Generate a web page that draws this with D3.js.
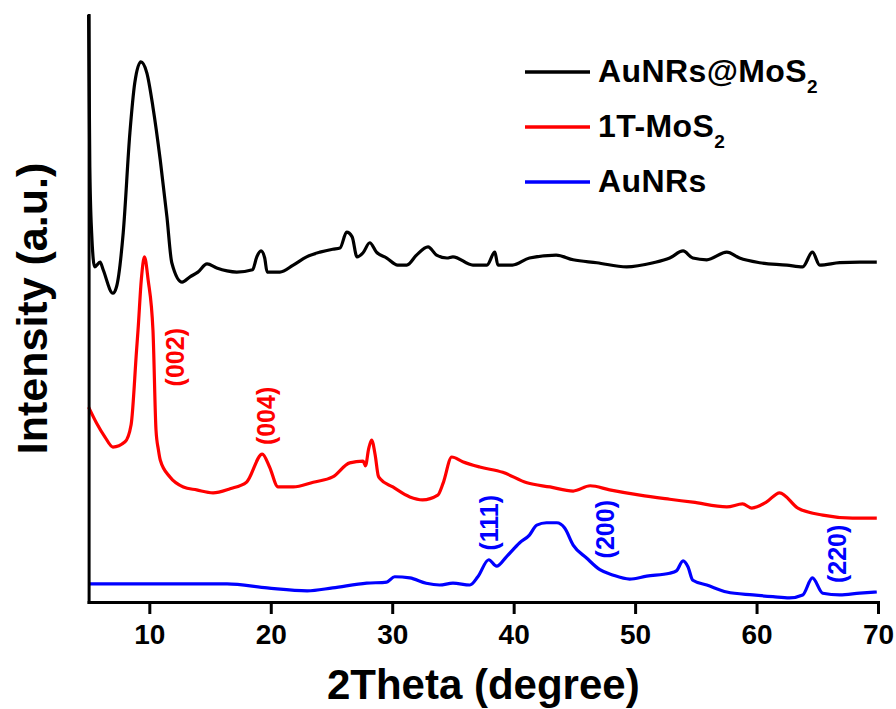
<!DOCTYPE html>
<html>
<head>
<meta charset="utf-8">
<script src="https://cdn.jsdelivr.net/npm/d3@7"></script>
<style>
  body { margin: 0; background: #fff; }
  svg text { font-family: "Liberation Sans", Arial, sans-serif; font-weight: bold; }
</style>
</head>
<body>
<div id="chart"></div>
<script>
const width = 896;
const height = 709;
const margin = { top: 15, right: 18, bottom: 107, left: 88.6 }

// 2theta (degree) / intensity (a.u.)
const auMosX = [5.0, 5.1, 5.25, 5.5, 5.95, 6.2, 7.0, 7.3, 7.85, 8.4, 8.8, 9.3, 9.8, 10.3, 10.9, 11.45, 11.85, 12.7, 13.35, 14.0,
  14.75, 15.55, 16.4, 17.2, 18.5, 18.85, 19.2, 19.5, 19.7, 20.75, 21.85, 22.95, 24.05, 25.1, 25.7, 26.25, 26.7, 27.1, 27.6, 28.15,
  28.7, 29.55, 30.45, 31.2, 32.0, 32.95, 33.65, 34.5, 35.0, 36.65, 37.8, 38.45, 38.7, 39.9, 41.3, 43.5, 44.9, 46.85, 49.3, 51.5,
  52.85, 53.95, 54.75, 55.9, 57.55, 58.6, 60.25, 62.5, 63.8, 64.6, 65.2, 66.85, 68.5, 69.9]
const auMosY = [100.0, 74.1, 62.9, 57.1, 57.9, 56.6, 52.6, 53.7, 62.9, 79.9, 88.4, 92.0, 90.1, 84.3, 75.3, 65.6, 57.8, 54.5, 55.4, 56.2,
  57.6, 56.9, 56.4, 56.2, 56.6, 58.8, 59.8, 58.6, 56.2, 56.2, 57.4, 58.8, 59.6, 60.1, 60.3, 63.0, 62.2, 58.8, 59.5, 61.2,
  59.6, 58.6, 57.4, 57.4, 59.1, 60.5, 59.1, 58.6, 58.8, 57.4, 57.4, 59.6, 57.4, 57.4, 58.6, 59.1, 58.3, 57.8, 57.1, 57.8,
  58.6, 59.8, 58.6, 58.3, 59.6, 58.6, 57.8, 57.4, 57.1, 59.6, 57.4, 57.8, 57.9, 57.9]

const mos2X = [5.0, 5.65, 6.35, 7.0, 8.0, 8.5, 8.95, 9.07, 9.34, 9.6, 9.9, 10.3, 10.55, 10.75, 10.9, 11.7, 12.8, 13.9, 15.25, 16.65,
  18.0, 19.3, 19.9, 20.6, 21.85, 23.5, 25.1, 26.5, 27.6, 27.8, 28.05, 28.3, 28.6, 28.85, 29.0, 30.05, 31.45, 32.5, 33.75, 34.2,
  34.9, 35.8, 37.2, 39.1, 41.1, 43.0, 44.9, 46.3, 47.9, 50.4, 52.85, 54.75, 57.55, 58.85, 59.6, 60.8, 61.9, 63.4, 65.45, 67.9, 69.9]
const mos2Y = [33.2, 30.5, 28.1, 26.4, 27.3, 30.2, 42.9, 46.3, 54.9, 58.8, 54.9, 46.3, 29.3, 25.9, 24.2, 21.3, 19.6, 19.1, 18.6, 19.3,
  20.4, 25.2, 23.0, 19.6, 19.6, 20.4, 21.3, 23.7, 24.0, 23.2, 26.0, 27.6, 25.0, 21.5, 21.0, 19.6, 17.9, 17.4, 18.2, 20.3,
  24.7, 23.9, 23.0, 22.1, 20.3, 19.6, 18.9, 19.8, 19.1, 18.2, 17.5, 17.0, 16.2, 16.7, 16.0, 17.0, 18.6, 16.0, 14.8, 14.3, 14.3]

const auX = [5.0, 16.4, 19.7, 23.0, 25.1, 27.9, 29.55, 30.2, 31.45, 32.8, 33.9, 35.0, 36.4, 37.05, 37.95, 38.6, 39.4, 40.5, 41.3, 41.9,
  42.7, 43.55, 44.2, 44.9, 46.0, 47.1, 48.15, 49.55, 50.95, 52.85, 53.4, 53.95, 54.35, 54.75, 55.9, 57.55, 59.7, 61.35, 62.7, 63.8,
  64.6, 65.45, 66.85, 68.5, 69.9]
const auY = [3.1, 3.1, 2.4, 1.9, 2.4, 3.2, 3.4, 4.3, 4.1, 3.2, 2.9, 3.2, 2.9, 4.3, 7.2, 6.1, 7.7, 10.1, 11.4, 13.1,
  13.5, 13.5, 12.6, 9.7, 7.5, 5.5, 4.6, 3.9, 4.4, 4.9, 5.3, 7.0, 6.0, 3.7, 2.9, 1.7, 1.2, 0.9, 0.7, 1.2,
  4.1, 1.5, 1.2, 1.5, 1.7]

const seriesNames = ['AuNRs@MoS2', '1T-MoS2', 'AuNRs']
const seriesColors = ['#000000', '#ff0000', '#0000ff']

const xTicks = [10, 20, 30, 40, 50, 60, 70]

// peak labels: text, 2theta, intensity, colour index
const peakText = ['(002)', '(004)', '(111)', '(200)', '(220)']
const peakX = [12.1, 19.6, 37.95, 47.5, 66.6]
const peakY = [41.7, 31.7, 13.5, 12.4, 8.2]
const peakSeries = [1, 1, 2, 2, 2]

const x = d3.scaleLinear().domain([5, 70]).range([margin.left, width - margin.right]);
const y = d3.scaleLinear().domain([0, 100]).range([height - margin.bottom, margin.top]);

const line = d3.line()
    .curve(d3.curveMonotoneX)
    .x(d => x(d.x))
    .y(d => y(d.y))

const toPts = (xs, ys) => xs.map((v, i) => ({ x: v, y: ys[i] }))
const series = [toPts(auMosX, auMosY), toPts(mos2X, mos2Y), toPts(auX, auY)]

const svg = d3.select('#chart')
    .append('svg')
    .attr('width', width)
    .attr('height', height)

// curves
svg.append('g')
    .selectAll('path')
    .data(series)
    .join('path')
    .attr('d', line)
    .attr('fill', 'none')
    .attr('stroke', (d, i) => seriesColors[i])
    .attr('stroke-width', 3.2)
    .attr('stroke-linejoin', 'round')

// axes
const xAxis = g => g
    .attr('transform', `translate(0,${height - margin.bottom})`)
    .call(d3.axisBottom(x).tickValues(xTicks).tickSize(12).tickSizeOuter(0).tickPadding(10))
    .call(g => g.selectAll('line').attr('stroke-width', 3))
    .call(g => g.select('.domain').attr('stroke-width', 3).attr('stroke-linecap', 'square'))
    .call(g => g.selectAll('text').attr('font-size', 28).attr('fill', '#000')
        .style('font-family', '"Liberation Sans", Arial, sans-serif').style('font-weight', 'bold'))

const yAxis = g => g
    .attr('transform', `translate(${margin.left},0)`)
    .call(d3.axisLeft(y).ticks(0).tickSizeOuter(0))
    .call(g => g.select('.domain').attr('stroke-width', 3).attr('stroke-linecap', 'square'))

svg.append('g').call(xAxis)
svg.append('g').call(yAxis)

// axis titles
svg.append('text')
    .attr('x', (x(5) + x(70)) / 2)
    .attr('y', 699)
    .attr('text-anchor', 'middle')
    .attr('font-size', 42)
    .text('2Theta (degree)')

svg.append('text')
    .attr('transform', `translate(47,${(y(0) + y(100)) / 2}) rotate(-90)`)
    .attr('text-anchor', 'middle')
    .attr('font-size', 43)
    .text('Intensity (a.u.)')

// peak labels
svg.append('g')
    .selectAll('text')
    .data(peakText)
    .join('text')
    .attr('transform', (d, i) => `translate(${x(peakX[i])},${y(peakY[i])}) rotate(-90)`)
    .attr('text-anchor', 'middle')
    .attr('dominant-baseline', 'central')
    .attr('font-size', 25)
    .attr('fill', (d, i) => seriesColors[peakSeries[i]])
    .text(d => d)

// legend
const legend = svg.append('g')
    .attr('transform', 'translate(525,72)')

const item = legend.selectAll('g')
    .data(seriesNames)
    .join('g')
    .attr('transform', (d, i) => `translate(0,${i * 55})`)

item.append('line')
    .attr('x1', 0)
    .attr('x2', 65)
    .attr('stroke', (d, i) => seriesColors[i])
    .attr('stroke-width', 3.5)

const label = item.append('text')
    .attr('x', 73)
    .attr('y', 10)
    .attr('font-size', 32)
    .attr('letter-spacing', 0.4)

label.each(function (d) {
    const t = d3.select(this)
    if (d.endsWith('2')) {
        t.append('tspan').text(d.slice(0, -1))
        t.append('tspan').attr('font-size', 19).attr('dy', 11).text('2')
    } else {
        t.text(d)
    }
})
</script>
</body>
</html>
